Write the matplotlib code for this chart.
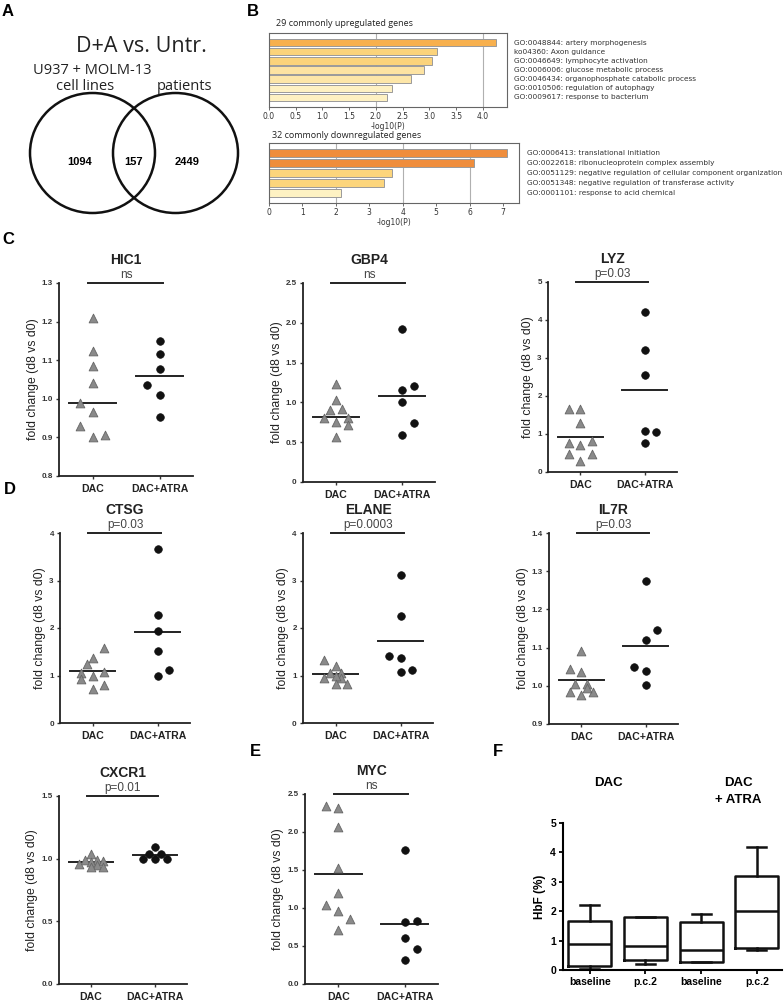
import numpy as np
import matplotlib
matplotlib.use('Agg')
import matplotlib.pyplot as plt
import matplotlib.transforms as mtransforms
from matplotlib.patches import Ellipse

plt.rcParams['font.family'] = ['Liberation Sans', 'DejaVu Sans']

# ---- data ----
# A: venn
venn_title = 'D+A vs. Untr.'
venn_counts = [1094, 157, 2449]

# B: enrichment bars
up_terms = ['GO:0048844: artery morphogenesis', 'ko04360: Axon guidance',
            'GO:0046649: lymphocyte activation', 'GO:0006006: glucose metabolic process',
            'GO:0046434: organophosphate catabolic process', 'GO:0010506: regulation of autophagy',
            'GO:0009617: response to bacterium']
up_vals = [4.25, 3.15, 3.05, 2.9, 2.65, 2.3, 2.2]
up_colors = ['#f7b04e', '#fbd37b', '#fbd37b', '#fde3a2', '#fde6a8', '#fef1c2', '#fef1c2']
down_terms = ['GO:0006413: translational initiation', 'GO:0022618: ribonucleoprotein complex assembly',
              'GO:0051129: negative regulation of cellular component organization',
              'GO:0051348: negative regulation of transferase activity',
              'GO:0001101: response to acid chemical']
down_vals = [7.12, 6.12, 3.67, 3.45, 2.15]
down_colors = ['#ef8d3c', '#ef8d3c', '#fcd57c', '#fcd57c', '#fef2c3']

# C-E: fold change scatter
genes = ['HIC1', 'GBP4', 'LYZ', 'CTSG', 'ELANE', 'IL7R', 'CXCR1', 'MYC']
ptexts = ['ns', 'ns', 'p=0.03', 'p=0.03', 'p=0.0003', 'p=0.03', 'p=0.01', 'ns']
groups = ['DAC', 'DAC+ATRA']

hic1_dac = [1.21, 1.125, 1.085, 1.04, 0.99, 0.965, 0.93, 0.90, 0.905]
hic1_atra = [1.15, 1.115, 1.078, 1.037, 1.01, 0.953]
gbp4_dac = [1.23, 1.03, 0.91, 0.92, 0.80, 0.76, 0.80, 0.71, 0.57]
gbp4_atra = [1.92, 1.16, 1.20, 1.01, 0.74, 0.59]
lyz_dac = [1.67, 1.65, 1.28, 0.77, 0.70, 0.81, 0.48, 0.48, 0.28]
lyz_atra = [4.22, 3.21, 2.54, 1.08, 1.05, 0.76]
ctsg_dac = [1.58, 1.36, 1.24, 1.05, 1.08, 1.0, 0.93, 0.80, 0.72]
ctsg_atra = [3.67, 2.28, 1.93, 1.51, 1.0, 1.12]
elane_dac = [1.33, 1.19, 1.05, 1.05, 0.95, 0.95, 1.0, 0.82, 0.82]
elane_atra = [3.12, 2.25, 1.42, 1.36, 1.08, 1.12]
il7r_dac = [1.09, 1.045, 1.036, 1.005, 1.005, 0.985, 0.985, 0.976, 0.995]
il7r_atra = [1.275, 1.147, 1.119, 1.049, 1.039, 1.003]
cxcr1_dac = [1.04, 0.99, 0.99, 0.97, 0.96, 0.98, 0.95, 0.93, 0.93]
cxcr1_atra = [1.09, 1.04, 1.04, 1.0, 1.0, 1.0]
myc_dac = [2.34, 2.31, 2.07, 1.53, 1.20, 1.04, 0.96, 0.86, 0.71]
myc_atra = [1.76, 0.81, 0.83, 0.60, 0.46, 0.31]

# group lines (DAC, DAC+ATRA)
hic1_lines = [0.99, 1.058]
gbp4_lines = [0.82, 1.08]
lyz_lines = [0.92, 2.15]
ctsg_lines = [1.10, 1.92]
elane_lines = [1.03, 1.73]
il7r_lines = [1.016, 1.104]
cxcr1_lines = [0.975, 1.03]
myc_lines = [1.45, 0.79]

# column scatter offsets (in steps)
hic1_jit = ([0, 0, 0, 0, -1, 0, -1, 0, 1], [0, 0, 0, -1, 0, 0])
gbp4_jit = ([0, 0, -0.5, 0.5, -1, 0, 1, 1, 0], [0, 0, 1, 0, 1, 0])
lyz_jit = ([-1, 0, 0, -1, 0, 1, -1, 1, 0], [0, 0, 0, 0, 1, 0])
ctsg_jit = ([1, 0, -0.5, -1, 1, 0, -1, 1, 0], [0, 0, 0, 0, 0, 1])
elane_jit = ([-1, 0, -0.5, 0.5, -1, 0.5, 0, 0, 1], [0, 0, -1, 0, 0, 1])
il7r_jit = ([0, -1, 0, -0.5, 0.5, -1, 1, 0, 0.5], [0, 1, 0, -1, 0, 0])
cxcr1_jit = ([0, -0.5, 0.5, 0, -1, 1, 0.5, 0, 1], [0, -0.5, 0.5, -1, 0, 1])
myc_jit = ([-1, 0, 0, 0, 0, -1, 0, 1, 0], [0, 0, 1, 0, 1, 0])

# F: HbF box plots
box_labels = ['baseline', 'p.c.2', 'baseline', 'p.c.2']
box_whislo = [0.03, 0.19, 0.28, 0.68]
box_q1 = [0.15, 0.34, 0.28, 0.74]
box_med = [0.90, 0.83, 0.69, 2.00]
box_q3 = [1.66, 1.79, 1.64, 3.19]
box_whishi = [2.20, 1.79, 1.90, 4.19]

# ---- figure ----
W, H = 784, 1000
fig = plt.figure(figsize=(W / 100, H / 100), dpi=100)


def px_axes(l, t, r, b):
    return fig.add_axes([l / W, 1 - b / H, (r - l) / W, (b - t) / H])


def px_text(x, y, s, **kw):
    fig.text(x / W, 1 - y / H, s, **kw)


for lab, x, y in [('A', 8, 12), ('B', 253, 12), ('C', 8, 240), ('D', 10, 489),
                  ('E', 255, 751), ('F', 498, 751)]:
    px_text(x, y, lab, fontsize=12, fontweight='bold', ha='center', va='center')

# A - venn
axA = px_axes(0, 0, 260, 300)
axA.set_xlim(0, 260)
axA.set_ylim(300, 0)
axA.axis('off')
cl, cr, cy = 92.5, 175.5, 153
for cx in (cl, cr):
    axA.add_patch(Ellipse((cx, cy), 125, 120, fill=False, lw=1.8, ec='#111'))
for x, n in zip([cl - 13, (cl + cr) / 2, cr + 12], venn_counts):
    axA.text(x, cy + 9, str(n), ha='center', va='center', fontsize=8, fontweight='bold')
vf = dict(ha='center', va='center', family='Open Sans', color='#222')
axA.text(141, 46, venn_title, fontsize=15.5, **vf)
axA.text(92, 70, 'U937 + MOLM-13', fontsize=10.5, **vf)
axA.text(85, 86, 'cell lines', fontsize=10.5, **vf)
axA.text(185, 86, 'patients', fontsize=10.5, **vf)


# B - enrichment
def bar_panel(box, vals, colors, terms, xmax, xticks, xtl, grid, title, title_xy, label_x):
    ax = px_axes(*box)
    y = np.arange(len(vals))
    ax.barh(y, vals, height=0.82, color=colors, edgecolor='#9a9a9a', lw=0.7, zorder=2)
    for g in grid:
        ax.axvline(g, color='#b0b0b0', lw=0.8, zorder=0)
    ax.set_ylim(len(vals) - 1 + 1.05, -1.05)
    ax.set_xlim(0, xmax)
    ax.set_yticks([])
    ax.set_xticks(xticks)
    ax.set_xticklabels(xtl, fontsize=5.5, family='DejaVu Sans', color='#333')
    ax.tick_params(axis='x', length=2, width=0.6, pad=1.5, color='#555')
    for s in ax.spines.values():
        s.set_color('#666')
        s.set_linewidth(0.8)
    ax.set_xlabel('-log10(P)', fontsize=5.5, family='DejaVu Sans', labelpad=1, color='#333')
    trans = mtransforms.blended_transform_factory(ax.transAxes, ax.transData)
    for yi, t in zip(y, terms):
        ax.text(label_x, yi, t, transform=trans, fontsize=5.3, va='center', family='DejaVu Sans', color='#333')
    px_text(title_xy[0], title_xy[1], title, fontsize=6.5, family='Open Sans', va='center', color='#222')


bar_panel((269, 33, 507, 107), up_vals, up_colors, up_terms, 4.45,
          np.arange(0, 4.01, 0.5), ['%.1f' % v for v in np.arange(0, 4.01, 0.5)], [2, 4],
          '29 commonly upregulated genes', (276, 24), 1.03)
bar_panel((269, 143, 519, 203), down_vals, down_colors, down_terms, 7.48,
          np.arange(0, 8), [str(v) for v in range(8)], [2, 4, 6],
          '32 commonly downregulated genes', (272, 135), 1.032)

# C-E scatter panels
JIT = 0.18


def scatter_panel(box, gene, ptext, dac, atra, lines, jit, yt, ytl):
    ax = px_axes(*box)
    ax.scatter(1 + JIT * np.array(jit[0]), dac, marker='^', s=40, c='#8a8a8a',
               edgecolors='#666666', linewidths=0.6, zorder=3, clip_on=False)
    ax.scatter(2 + JIT * np.array(jit[1]), atra, marker='o', s=30, c='#111111',
               edgecolors='#111111', linewidths=0.5, zorder=3, clip_on=False)
    for x, m in zip((1, 2), lines):
        ax.plot([x - 0.35, x + 0.35], [m, m], color='#222', lw=1.4, zorder=2)
    ax.set_xlim(0.5, 2.5)
    ax.set_ylim(yt[0], yt[-1])
    ax.set_yticks(yt)
    ax.set_yticklabels(ytl, fontsize=5.8, fontweight='bold', color='#333')
    ax.set_xticks([1, 2])
    ax.set_xticklabels(groups, fontsize=7.6, fontweight='bold', color='#222')
    ax.tick_params(length=2.5, width=1, pad=2, color='#333')
    ax.tick_params(axis='x', pad=3)
    for s in ('top', 'right'):
        ax.spines[s].set_visible(False)
    for s in ('left', 'bottom'):
        ax.spines[s].set_linewidth(1.3)
        ax.spines[s].set_color('#222')
    ax.set_ylabel('fold change (d8 vs d0)', fontsize=8.8, color='#222', labelpad=2)
    trans = mtransforms.blended_transform_factory(ax.transData, ax.transAxes)
    ax.plot([0.93, 2.05], [1, 1], transform=trans, color='#222', lw=1.4, clip_on=False)
    ax.annotate(ptext, xy=(1.5, 1), xycoords=trans, xytext=(0, 1.5), textcoords='offset points',
                ha='center', va='bottom', fontsize=8.5, color='#444')
    ax.annotate(gene, xy=(1.5, 1), xycoords=trans, xytext=(0, 11.5), textcoords='offset points',
                ha='center', va='bottom', fontsize=10, fontweight='bold', color='#222')
    return ax


def ticks(lo, hi, step, fmt):
    v = np.round(np.arange(lo, hi + step / 2, step), 3)
    return v, [fmt(x) for x in v]


t = ticks(0.8, 1.3, 0.1, lambda x: '%.1f' % x)
scatter_panel((59, 283, 193, 476), genes[0], ptexts[0], hic1_dac, hic1_atra, hic1_lines, hic1_jit, *t)
t = ticks(0, 2.5, 0.5, lambda x: '0' if x == 0 else '%.1f' % x)
scatter_panel((303, 283, 435, 482), genes[1], ptexts[1], gbp4_dac, gbp4_atra, gbp4_lines, gbp4_jit, *t)
t = ticks(0, 5, 1, lambda x: '%d' % x)
scatter_panel((548, 282, 677, 472), genes[2], ptexts[2], lyz_dac, lyz_atra, lyz_lines, lyz_jit, *t)
t = ticks(0, 4, 1, lambda x: '%d' % x)
scatter_panel((60, 533, 190, 723), genes[3], ptexts[3], ctsg_dac, ctsg_atra, ctsg_lines, ctsg_jit, *t)
scatter_panel((303, 533, 433, 723), genes[4], ptexts[4], elane_dac, elane_atra, elane_lines, elane_jit, *t)
t = ticks(0.9, 1.4, 0.1, lambda x: '%.1f' % x)
scatter_panel((549, 533, 678, 724), genes[5], ptexts[5], il7r_dac, il7r_atra, il7r_lines, il7r_jit, *t)
t = ticks(0, 1.5, 0.5, lambda x: '%.1f' % x)
scatter_panel((59, 796, 187, 984), genes[6], ptexts[6], cxcr1_dac, cxcr1_atra, cxcr1_lines, cxcr1_jit, *t)
t = ticks(0, 2.5, 0.5, lambda x: '%.1f' % x)
scatter_panel((305, 794, 438, 984), genes[7], ptexts[7], myc_dac, myc_atra, myc_lines, myc_jit, *t)

# F - box plots
axF = px_axes(563, 823, 782, 970)
stats = []
for i in range(len(box_labels)):
    stats.append(dict(whislo=box_whislo[i], q1=box_q1[i], med=box_med[i],
                      q3=box_q3[i], whishi=box_whishi[i], fliers=[], label=box_labels[i]))
lp = dict(color='#111', lw=1.8)
axF.bxp(stats, positions=range(1, 5), widths=0.77, capwidths=0.34, showfliers=False,
        boxprops=lp, whiskerprops=lp, capprops=lp, medianprops=lp)
axF.set_xlim(0.52, 4.45)
axF.set_ylim(0, 5)
axF.set_yticks(range(6))
axF.set_yticklabels([str(v) for v in range(6)], fontsize=7.5, fontweight='bold')
axF.set_xticklabels(box_labels, fontsize=7.5, fontweight='bold')
axF.tick_params(length=3, width=1.3, pad=2)
for s in ('top', 'right'):
    axF.spines[s].set_visible(False)
for s in ('left', 'bottom'):
    axF.spines[s].set_linewidth(1.5)
axF.set_ylabel('HbF (%)', fontsize=8.5, fontweight='bold', labelpad=3)
px_text(608, 783, 'DAC', fontsize=9.5, fontweight='bold', ha='center', va='center')
px_text(738, 783, 'DAC', fontsize=9.5, fontweight='bold', ha='center', va='center')
px_text(738, 800, '+ ATRA', fontsize=9.5, fontweight='bold', ha='center', va='center')

fig.savefig('out.png', dpi=100)
